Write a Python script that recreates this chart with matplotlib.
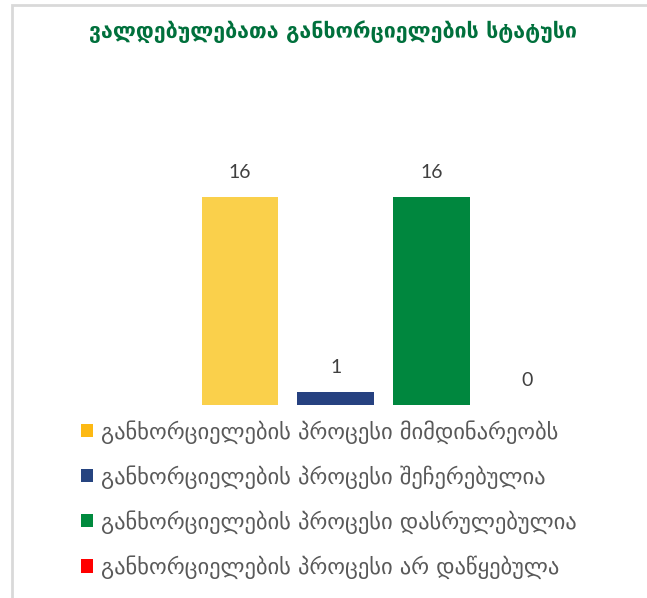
import matplotlib.pyplot as plt
from matplotlib.patches import Rectangle, Patch

plt.rcParams['font.family'] = ['DejaVu Sans']

title = 'ვალდებულებათა განხორციელების სტატუსი'
statuses = [
    'განხორციელების პროცესი მიმდინარეობს',
    'განხორციელების პროცესი შეჩერებულია',
    'განხორციელების პროცესი დასრულებულია',
    'განხორციელების პროცესი არ დაწყებულა',
]
counts = [16, 1, 16, 0]
bar_colors = ['#FAD04B', '#264180', '#00873E', '#FF0000']
legend_colors = ['#FDB913', '#264480', '#008A3E', '#FF0000']

W, H = 647, 598
fig = plt.figure(figsize=(W / 100, H / 100), dpi=100)

# light grey chart frame (runs off the right/bottom edge)
fig.patches.append(Rectangle((11.5 / W, -0.05), 1.2, 1.05 - 5.5 / H,
                             transform=fig.transFigure, fill=False,
                             edgecolor='#D9D9D9', linewidth=2))

ax = fig.add_axes([192 / W, (H - 405) / H, 383 / W, 234 / H])
x = range(len(counts))
bars = ax.bar(x, counts, width=0.8, color=bar_colors)
ax.set_xlim(-0.5, len(counts) - 0.5)
ax.set_ylim(0, 18)
ax.axis('off')

for b, v in zip(bars, counts):
    ax.annotate(str(v), (b.get_x() + b.get_width() / 2, v),
                xytext=(0, 17.5), textcoords='offset points',
                ha='center', va='center', fontsize=14,
                color='#404040', family=['Lato', 'DejaVu Sans'])

fig.text(333 / W, 1 - 32 / H, title, ha='center', va='center',
         fontsize=15.4, fontweight='bold', color='#00703C')

handles = [Patch(facecolor=c, edgecolor='none') for c in legend_colors]
fig.legend(handles, statuses, loc='upper left',
           bbox_to_anchor=(81 / W, 1 - 420 / H), frameon=False,
           fontsize=16.2, labelcolor='#595959', handlelength=0.55,
           handleheight=0.55, handletextpad=0.35, labelspacing=0.95,
           borderpad=0, borderaxespad=0)

fig.savefig('out.png', dpi=100)
